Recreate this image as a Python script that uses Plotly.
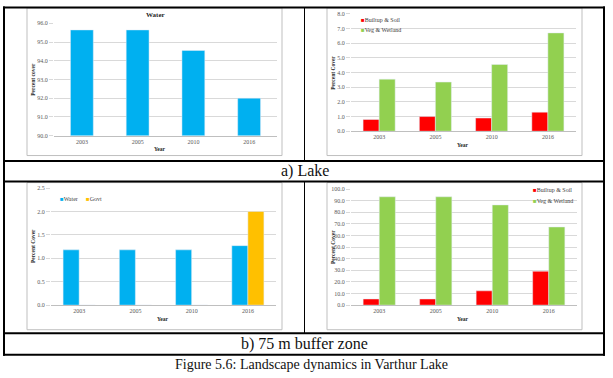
import plotly.graph_objects as go

W, H = 613, 378

years = ["2003", "2005", "2010", "2016"]

# a) Lake
lake_water = [95.65, 95.65, 94.55, 92.0]
lake_builtup = [0.8, 1.0, 0.9, 1.3]
lake_veg = [3.55, 3.35, 4.55, 6.7]

# b) 75 m buffer zone
buf_water = [1.18, 1.18, 1.18, 1.27]
buf_govt = [0, 0, 0, 2.0]
buf_builtup = [5.3, 5.3, 12.3, 29.2]
buf_veg = [93.3, 93.3, 86.3, 67.3]

BLUE = "#00B0F0"
RED = "#FF0000"
GREEN = "#92D050"
GOLD = "#FFC000"

FONT = "Liberation Serif, Times New Roman, serif"


def X(px):
    return px / W


def Y(py):
    return 1 - py / H


fig = go.Figure()

fig.add_trace(go.Bar(x=years, y=lake_water, marker_color=BLUE, width=0.41,
                     name="Water", xaxis="x", yaxis="y"))
fig.add_trace(go.Bar(x=years, y=lake_builtup, marker_color=RED, name="Builtup & Soil",
                     xaxis="x2", yaxis="y2"))
fig.add_trace(go.Bar(x=years, y=lake_veg, marker_color=GREEN, name="Veg & Wetland",
                     xaxis="x2", yaxis="y2"))
fig.add_trace(go.Bar(x=years, y=buf_water, marker_color=BLUE, name="Water",
                     xaxis="x3", yaxis="y3"))
fig.add_trace(go.Bar(x=years, y=buf_govt, marker_color=GOLD, name="Govt",
                     xaxis="x3", yaxis="y3"))
fig.add_trace(go.Bar(x=years, y=buf_builtup, marker_color=RED, name="Builtup & Soil",
                     xaxis="x4", yaxis="y4"))
fig.add_trace(go.Bar(x=years, y=buf_veg, marker_color=GREEN, name="Veg & Wetland",
                     xaxis="x4", yaxis="y4"))

tickfont = dict(family=FONT, size=6, color="#595959")


def xax(x0, x1, anchor):
    return dict(domain=[X(x0), X(x1)], anchor=anchor, type="category",
                showgrid=False, showline=True, linecolor="#bfbfbf", linewidth=1,
                ticks="", tickfont=tickfont, fixedrange=True)


def yax(y_top, y_bot, anchor, rng, dtick):
    return dict(domain=[Y(y_bot), Y(y_top)], anchor=anchor, range=rng, dtick=dtick,
                tickformat=".1f", showgrid=True, gridcolor="#d9d9d9", gridwidth=1,
                zeroline=False, showline=False, ticks="outside", ticklen=4,
                tickcolor="#d9d9d9", tickfont=tickfont, fixedrange=True)


layout = dict(
    width=W, height=H, margin=dict(l=0, r=0, t=0, b=0),
    paper_bgcolor="white", plot_bgcolor="white",
    barmode="group", bargap=0.43, bargroupgap=0, showlegend=False,
    font=dict(family=FONT),
    xaxis=xax(54, 277, "y"), yaxis=yax(20.7, 134.7, "x", [90, 96], 1),
    xaxis2=xax(351, 576, "y2"), yaxis2=yax(11, 130.3, "x2", [0, 8], 1),
    xaxis3=xax(51, 276, "y3"), yaxis3=yax(188, 307, "x3", [0, 2.5], 0.5),
    xaxis4=xax(351, 577, "y4"), yaxis4=yax(189, 307, "x4", [0, 100], 10),
)
fig.update_layout(**layout)

shapes = []
for (x0, y0, x1, y1) in [(27, 5, 282, 155), (327, 5, 582, 155),
                         (27, 182.5, 282, 332), (327, 182.5, 582, 332)]:
    shapes.append(dict(type="rect", xref="paper", yref="paper",
                       x0=X(x0), x1=X(x1), y0=Y(y1), y1=Y(y0),
                       line=dict(color="#bfbfbf", width=1), fillcolor="rgba(0,0,0,0)"))
blk = dict(color="black", width=2)
for py in [4.5, 160.5, 181.5, 335.5, 357.5]:
    shapes.append(dict(type="line", xref="paper", yref="paper",
                       x0=X(3), x1=X(605), y0=Y(py), y1=Y(py), line=blk))
for px in [4, 604]:
    shapes.append(dict(type="line", xref="paper", yref="paper",
                       x0=X(px), x1=X(px), y0=Y(3.5), y1=Y(358.5), line=blk))
for (ya, yb) in [(4.5, 160.5), (181.5, 335.5)]:
    shapes.append(dict(type="line", xref="paper", yref="paper",
                       x0=X(304.5), x1=X(304.5), y0=Y(ya), y1=Y(yb),
                       line=dict(color="black", width=1)))

anns = []


def ann(text, px, py, size, bold=False, angle=0, color="#262626", xanchor="center"):
    t = f"<b>{text}</b>" if bold else text
    anns.append(dict(text=t, x=X(px), y=Y(py), xref="paper", yref="paper",
                     showarrow=False, xanchor=xanchor, yanchor="middle",
                     textangle=angle, font=dict(family=FONT, size=size, color=color)))


def legend_item(name, color, px, py):
    text = f"<span style='color:{color}'>■</span>{name}"
    ann(text, px, py, 6, color="#404040", xanchor="left")


ann("Water", 155, 12, 7, bold=True)
ann("Percent cover", 33, 78, 5.5, bold=True, angle=-90)
ann("Percent Cover", 333, 71, 5.5, bold=True, angle=-90)
ann("Percent Cover", 33, 247, 5.5, bold=True, angle=-90)
ann("Percent Cover", 333, 248, 5.5, bold=True, angle=-90)
ann("Year", 160, 148, 5.5, bold=True)
ann("Year", 463, 144, 5.5, bold=True)
ann("Year", 163, 321, 5.5, bold=True)
ann("Year", 463, 321, 5.5, bold=True)

legend_item("Builtup & Soil", RED, 359, 17)
legend_item("Veg & Wetland", GREEN, 359, 27)
legend_item("Water", BLUE, 58, 199)
legend_item("Govt", GOLD, 84, 199)
legend_item("Builtup & Soil", RED, 531, 190)
legend_item("Veg & Wetland", GREEN, 531, 201.5)

ann("a) Lake", 304.5, 170.5, 16, color="#111111")
ann("b) 75 m buffer zone", 304.5, 346, 16, color="#111111")
ann("Figure 5.6: Landscape dynamics in Varthur Lake", 311, 367.5, 14, color="#111111")

fig.update_layout(shapes=shapes, annotations=anns)

fig.write_html("out.html", config={"displayModeBar": False},
               post_script="document.body.style.margin='0';document.body.style.padding='0';")
